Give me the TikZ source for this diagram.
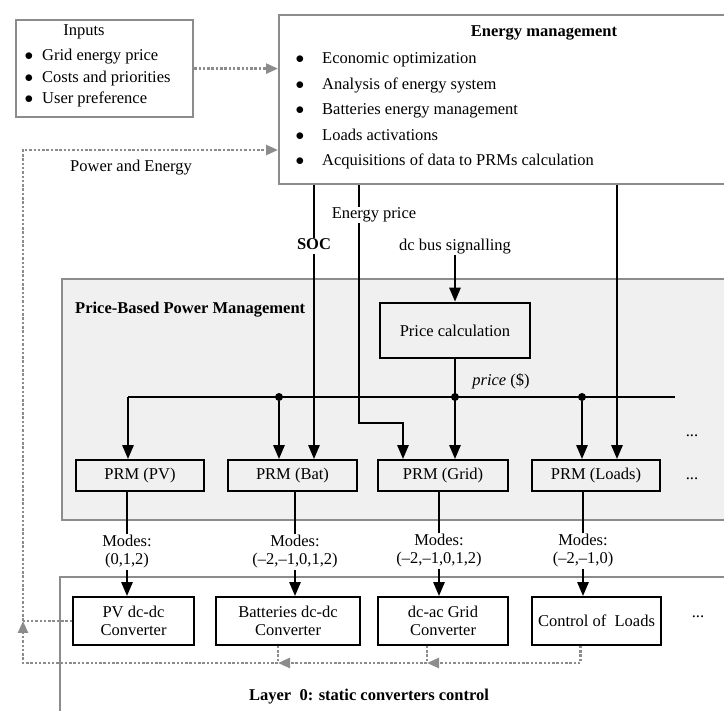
\documentclass[tikz,border=0pt]{standalone}
\usepackage{fontspec}
\setmainfont{Liberation Serif}
\usetikzlibrary{arrows.meta}

\definecolor{frame}{gray}{0.55}
\definecolor{panelfill}{gray}{0.94}

\tikzset{
  graybox/.style={draw=frame, line width=2.2pt, inner sep=0pt},
  prmbox/.style={draw, line width=1.8pt, minimum height=31pt},
  convbox/.style={draw, line width=1.8pt, minimum height=48pt, align=center},
  modes/.style={align=center, inner sep=1pt},
  txt/.style={inner sep=1pt, text height=11pt, text depth=3.5pt},
  wire/.style={line width=2.6pt},
  sig/.style={wire, -{Triangle[length=14pt,width=11pt]}},
  fb/.style={draw=frame, line width=2.5pt, dash pattern=on 2.5pt off 1.8pt},
  fbarrow/.style={fb, -{Triangle[length=12pt,width=10pt]}},
  junc/.style={circle, fill, inner sep=0pt, minimum size=8pt},
}

\begin{document}
\begin{tikzpicture}[x=1pt, y=-1pt]
\fontsize{16.5}{18}\selectfont
\clip (0,0) rectangle (724,711);

% Inputs
\node[graybox, anchor=north west, minimum width=177pt, minimum height=97pt] (inputs) at (15,19) {};
\node[txt] (inhead) at (84,32) {Inputs};
\foreach \txt [count=\i] in {Grid energy price, Costs and priorities, User preference} {
  \node[txt] (inb\i) at (29,35.5+21.5*\i) {$\bullet$};
  \node[txt, anchor=west] (in\i) at (41,35.5+21.5*\i) {\txt};
}

% Energy management
\node[graybox, anchor=north west, minimum width=460pt, minimum height=169pt] (em) at (278,14) {};
\node[txt, font=\bfseries] (emhead) at (544,33) {Energy management};
\foreach \txt [count=\i] in {Economic optimization, Analysis of energy system,
    Batteries energy management, Loads activations, Acquisitions\ of data to PRMs calculation} {
  \node[txt] (emb\i) at (300,34.5+25.5*\i) {$\bullet$};
  \node[txt, anchor=west] (em\i) at (321,34.5+25.5*\i) {\txt};
}
\draw[fbarrow] (inputs.east) -- (inputs.east -| em.west);

% Price-Based Power Management
\node[graybox, fill=panelfill, anchor=north west, minimum width=700pt, minimum height=241pt] (pbpm) at (61,278) {};
\node[txt, font=\bfseries, anchor=west] (pbpmhead) at (74,310) {Price-Based Power Management};

\node[txt] (dcbus) at (455,247) {dc bus signalling};
\node[draw, line width=2.6pt, minimum width=150pt, minimum height=55pt] (pcalc) at (455,330.5) {Price calculation};
\draw[sig] (dcbus.south) -- (pcalc.north);

\node[prmbox, minimum width=128pt] (prmpv) at (140,475.5) {PRM (PV)};
\node[prmbox, minimum width=129pt] (prmbat) at (292.5,475.5) {PRM (Bat)};
\node[prmbox, minimum width=130pt] (prmgrid) at (443,475.5) {PRM (Grid)};
\node[prmbox, minimum width=128pt] (prmloads) at (596,475.5) {PRM (Loads)};
\node[txt] (more1) at (692,433) {...};
\node[txt] (more2) at (692,476) {...};

% price bus
\coordinate (busL) at (128,397);
\coordinate (busR) at (675,397);
\draw[wire] (busL) -- (busR);
\node[junc] (jbat) at (279,397) {};
\node[junc] (jgrid) at (455,397) {};
\node[junc] (jloads) at (582,397) {};
\draw[sig] (busL) -- (busL |- prmpv.north);
\draw[sig] (jbat) -- (jbat |- prmbat.north);
\draw[sig] (pcalc.south) -- (pcalc.south |- prmgrid.north);
\draw[sig] (jloads) -- (jloads |- prmloads.north);
\node[txt] (pricelbl) at (501,382) {\textit{price} (\$)};

% signals from energy management
\coordinate (socx) at (314,0);
\coordinate (epx) at (359,0);
\coordinate (epy) at (403,423);
\coordinate (ldx) at (617,0);
\draw[sig] (em.south -| socx) -- (prmbat.north -| socx);
\draw[sig] (em.south -| epx) -- (epx |- epy) -- (epy) -- (epy |- prmgrid.north);
\draw[sig] (em.south -| ldx) -- (prmloads.north -| ldx);
\node[txt, fill=white, font=\bfseries] (soclbl) at (314,246) {SOC};
\node[txt, fill=white] (eplbl) at (374,215) {Energy price};

% Layer 0
\node[graybox, anchor=north west, minimum width=700pt, minimum height=200pt] (layer) at (59,576) {};
\node[txt, font=\bfseries] (layerhead) at (369,697) {Layer\ \ 0: static converters control};

\node[convbox, minimum width=121pt] (convpv) at (133.5,621) {PV dc-dc\\Converter};
\node[convbox, minimum width=144pt] (convbat) at (288,621) {Batteries dc-dc\\Converter};
\node[convbox, minimum width=130pt] (convgrid) at (443,621) {dc-ac Grid\\Converter};
\node[convbox, minimum width=129pt] (convloads) at (596.5,621) {Control of\ \ Loads};
\node[txt] (more3) at (698,614) {...};

% modes
\node[modes] (mpv) at (127,552) {Modes:\\(0,1,2)};
\node[modes] (mbat) at (295,552) {Modes:\\(--2,--1,0,1,2)};
\node[modes] (mgrid) at (439,551) {Modes:\\(--2,--1,0,1,2)};
\node[modes] (mloads) at (583,551) {Modes:\\(--2,--1,0)};
\foreach \m/\p/\c in {mpv/prmpv/convpv, mbat/prmbat/convbat, mgrid/prmgrid/convgrid, mloads/prmloads/convloads} {
  \draw[wire] (\m.north |- \p.south) -- (\m.north);
  \draw[sig] (\m.south) -- (\m.south |- \c.north);
}

% power and energy feedback
\coordinate (fbx) at (23,0);
\coordinate (fby) at (0,663);
\coordinate (pey) at (0,150);
\coordinate (tapL) at ([xshift=-16pt]convloads.south);
\coordinate (tapG) at ([xshift=-16pt]convgrid.south);
\coordinate (tapB) at ([xshift=-10pt]convbat.south);
\draw[fbarrow] (tapL) -- (tapL |- fby) -- (tapG |- fby);
\draw[fbarrow] (tapG) -- (tapG |- fby) -- (tapB |- fby);
\draw[fbarrow] (tapB) -- (tapB |- fby) -- (fbx |- fby) -- (fbx |- convpv.west);
\draw[fb] (convpv.west) -- (fbx |- convpv.west);
\draw[fbarrow] (fbx |- convpv.west) -- (fbx |- pey) -- (em.west |- pey);
\node[txt] (pelbl) at (131,168) {Power and Energy};

\end{tikzpicture}
\end{document}
